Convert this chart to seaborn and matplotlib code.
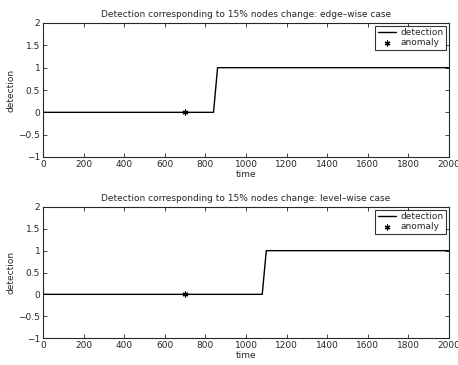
import matplotlib
matplotlib.use("Agg")
import pandas as pd
import matplotlib.pyplot as plt
import seaborn as sns

# detection step curves (time, detection)
edge_time = [0, 840, 860, 2000]
edge_det = [0, 0, 1, 1]
level_time = [0, 1080, 1100, 2000]
level_det = [0, 0, 1, 1]
anomaly_time = [700]
anomaly_val = [0]

titles = ["Detection corresponding to 15% nodes change: edge\u2013wise case",
          "Detection corresponding to 15% nodes change: level\u2013wise case"]

sns.set_style("ticks")
plt.rcParams["font.family"] = ["DejaVu Sans"]
plt.rcParams["font.size"] = 6.5

fig = plt.figure(figsize=(4.58, 3.65), dpi=100)
ax1 = fig.add_axes([43 / 458, 1 - 157 / 365, 406 / 458, 134 / 365])
ax2 = fig.add_axes([43 / 458, 1 - 338 / 365, 406 / 458, 131 / 365])

for ax, t, d, title in [(ax1, edge_time, edge_det, titles[0]),
                        (ax2, level_time, level_det, titles[1])]:
    sns.lineplot(x=t, y=d, ax=ax, color="black", lw=1, label="detection")
    sns.scatterplot(x=anomaly_time, y=anomaly_val, ax=ax, marker=(6, 2, 0),
                    color="black", s=12, linewidth=0.9, label="anomaly")
    ax.set_xlim(0, 2000)
    ax.set_ylim(-1, 2)
    ax.set_xticks(range(0, 2001, 200))
    ax.set_yticks([-1, -0.5, 0, 0.5, 1, 1.5, 2])
    ax.set_yticklabels(["\u22121", "\u22120.5", "0", "0.5", "1", "1.5", "2"])
    ax.tick_params(direction="in", top=True, right=True, length=3, width=0.6,
                   labelsize=6.5, pad=2)
    for s in ax.spines.values():
        s.set_linewidth(0.8)
    ax.set_xlabel("time", fontsize=6.5, labelpad=1)
    ax.set_ylabel("detection", fontsize=6.5, labelpad=2)
    ax.set_title(title, fontsize=6.5, pad=4)
    leg = ax.legend(loc="upper right", fontsize=6.5, frameon=True, fancybox=False,
                    edgecolor="black", borderpad=0.3, labelspacing=0.1,
                    handlelength=2.0, handletextpad=0.5, borderaxespad=0.3)
    leg.get_frame().set_linewidth(0.8)

fig.savefig("out.png", dpi=100)
